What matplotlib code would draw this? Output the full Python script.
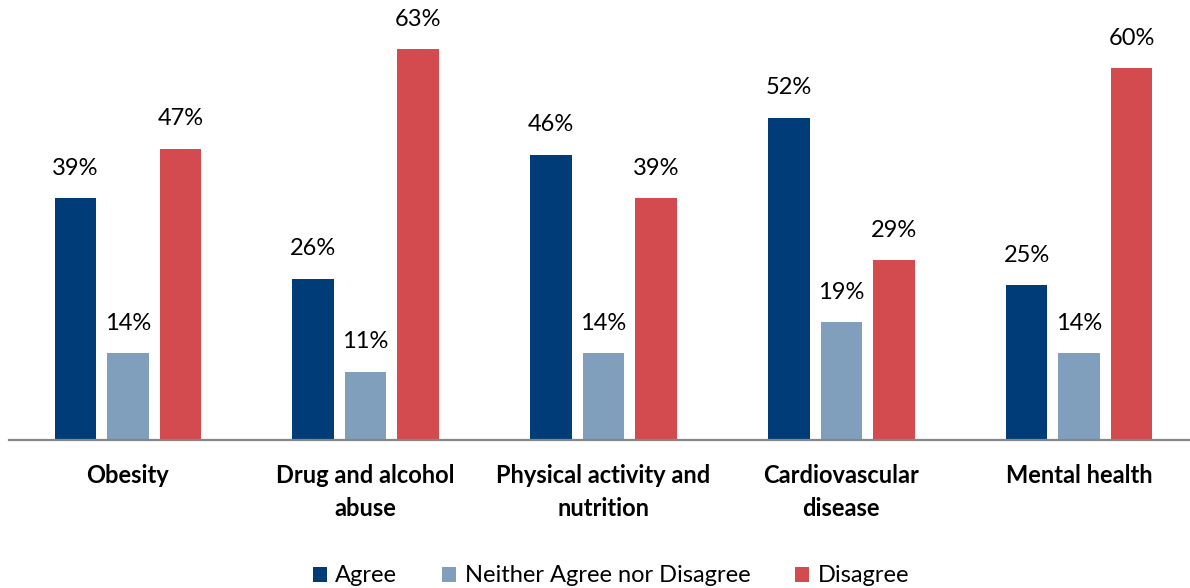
import matplotlib
matplotlib.use("Agg")
import matplotlib.pyplot as plt
import numpy as np

categories = ["Obesity", "Drug and alcohol\nabuse", "Physical activity and\nnutrition",
              "Cardiovascular\ndisease", "Mental health"]
series_names = ["Agree", "Neither Agree nor Disagree", "Disagree"]
agree = [39, 26, 46, 52, 25]
neither = [14, 11, 14, 19, 14]
disagree = [47, 63, 39, 29, 60]
colors = ["#003D78", "#7F9FBD", "#D34B4F"]

plt.rcParams['font.family'] = ['Lato', 'DejaVu Sans']

W, H = 1190, 588
fig = plt.figure(figsize=(W / 100, H / 100), dpi=100)
left, right, bottom = 9, 1198, 440
ymax = 70
px_per = 6.2
top = bottom - ymax * px_per
ax = fig.add_axes([left / W, 1 - bottom / H, (right - left) / W, (bottom - top) / H])

x = np.arange(len(categories))
bw = 0.1745
off = 0.2207
for i, (vals, c, name) in enumerate(zip([agree, neither, disagree], colors, series_names)):
    pos = x + (i - 1) * off
    ax.bar(pos, vals, width=bw, color=c, label=name, zorder=2)
    for p, v in zip(pos, vals):
        ax.annotate(f"{v}%", (p, v), xytext=(0, 14), textcoords="offset points",
                    ha="center", va="bottom", fontsize=17, color="#000000")

ax.set_xlim(-0.5, len(categories) - 0.5)
ax.set_ylim(0, ymax)
for s in ["top", "right", "left"]:
    ax.spines[s].set_visible(False)
ax.spines["bottom"].set_color("#868686")
ax.spines["bottom"].set_linewidth(1.6)
ax.set_yticks([])
ax.set_xticks(x)
ax.set_xticklabels(categories, fontsize=17, fontweight="bold", linespacing=1.55)
ax.tick_params(axis="x", length=0, pad=17)
for t in ax.get_xticklabels():
    t.set_verticalalignment("top")

leg = fig.legend(loc="center", bbox_to_anchor=(611 / W, 1 - 576 / H), ncol=3, frameon=False,
                 fontsize=17, handlelength=0.6, handleheight=0.6, handletextpad=0.35,
                 columnspacing=1.9)

fig.savefig("out.png", dpi=100)
